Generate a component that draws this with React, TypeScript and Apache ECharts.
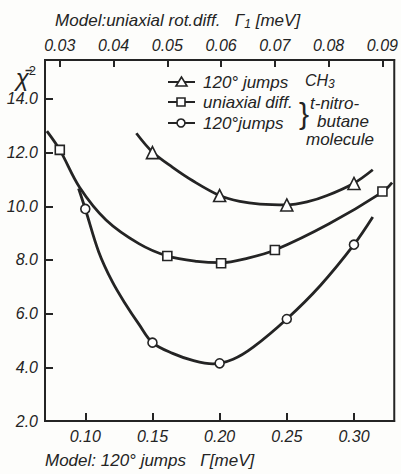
import React, { useEffect, useRef } from "react";
import * as echarts from "echarts";

// ---- data ----
const bottomTicks = [0.1, 0.15, 0.2, 0.25, 0.3];
const topTicks = [0.03, 0.04, 0.05, 0.06, 0.07, 0.08, 0.09];
const yTicks = [2, 4, 6, 8, 10, 12, 14];

// 120° jumps, CH3 (bottom axis, Γ)
const ch3MarkX = [0.15, 0.2, 0.25, 0.3];
const ch3MarkY = [12.0, 10.4, 10.05, 10.85];
const ch3CurveX = [0.138, 0.15, 0.165, 0.18, 0.2, 0.215, 0.23, 0.25, 0.265, 0.28, 0.3, 0.314];
const ch3CurveY = [12.72, 12.02, 11.45, 10.95, 10.4, 10.18, 10.08, 10.05, 10.16, 10.4, 10.86, 11.36];

// uniaxial diffusion, t-nitrobutane (top axis, Γ1)
const uniMarkX = [0.03, 0.05, 0.06, 0.07, 0.09];
const uniMarkY = [12.1, 8.15, 7.88, 8.37, 10.55];
const uniCurveX = [0.0276, 0.03, 0.0337, 0.0386, 0.0447, 0.05, 0.0555, 0.06, 0.065, 0.07, 0.08, 0.09, 0.0918];
const uniCurveY = [12.8, 12.1, 10.7, 9.49, 8.61, 8.15, 7.95, 7.9, 8.07, 8.37, 9.34, 10.53, 10.88];

// 120° jumps, t-nitrobutane (bottom axis, Γ)
const tnbMarkX = [0.1, 0.15, 0.2, 0.25, 0.3];
const tnbMarkY = [9.9, 4.92, 4.15, 5.8, 8.57];
const tnbCurveX = [0.095, 0.1, 0.11, 0.12, 0.13, 0.14, 0.15, 0.165, 0.18, 0.195, 0.21, 0.225, 0.25, 0.275, 0.3, 0.314];
const tnbCurveY = [10.66, 9.9, 8.3, 7.2, 6.35, 5.6, 4.92, 4.52, 4.26, 4.13, 4.3, 4.75, 5.8, 7.05, 8.57, 9.6];

const zip = (xs: number[], ys: number[]) => xs.map((x, i) => [x, ys[i]]);

const INK = "#242424";
const FONT = "'Liberation Sans', Arial, sans-serif";

export default function App() {
  const ref = useRef<HTMLDivElement>(null);
  useEffect(() => {
    const chart = echarts.init(ref.current!, null, { renderer: "svg" });
    const labelStyle = {
      fontFamily: FONT,
      fontStyle: "italic" as const,
      fontSize: 16,
      color: INK,
    };
    const lineSeries = (name: string, xs: number[], ys: number[], xi: number) => ({
      name,
      type: "line",
      xAxisIndex: xi,
      data: zip(xs, ys),
      smooth: 0.35,
      showSymbol: false,
      silent: true,
      lineStyle: { color: INK, width: 2.8 },
      z: 2,
    });
    const markSeries = (name: string, xs: number[], ys: number[], xi: number, symbol: string, size: number) => ({
      name,
      type: "scatter",
      xAxisIndex: xi,
      data: zip(xs, ys),
      symbol,
      symbolSize: size,
      itemStyle: { color: "#ffffff", opacity: 1, borderColor: INK, borderWidth: 1.6 },
      emphasis: { disabled: true },
      z: 3,
    });
    const legY = [82, 102, 123];
    const txt = (x: number, y: number, text: string, extra: any = {}) => ({
      type: "text",
      x,
      y,
      style: {
        text,
        font: `italic 17px ${FONT}`,
        fill: INK,
        verticalAlign: "middle",
        ...extra,
      },
    });
    chart.setOption({
      animation: false,
      backgroundColor: "#fdfdfb",
      grid: {
        left: 45,
        right: 2,
        top: 60,
        bottom: 47,
        show: true,
        borderColor: INK,
        borderWidth: 2,
        containLabel: false,
      },
      xAxis: [
        {
          type: "value",
          position: "bottom",
          min: 0.07,
          max: 0.33,
          name: "Model: 120° jumps   Γ[meV]",
          nameLocation: "middle",
          nameGap: 31,
          nameTextStyle: { ...labelStyle, fontSize: 17, padding: [0, 140, 0, 0] },
          axisLine: { show: true, lineStyle: { color: INK, width: 2 } },
          axisTick: { show: true, inside: true, length: 8, customValues: bottomTicks, lineStyle: { color: INK, width: 2 } },
          axisLabel: { ...labelStyle, margin: 7, customValues: bottomTicks, formatter: (v: number) => v.toFixed(2) },
          splitLine: { show: false },
        },
        {
          type: "value",
          position: "top",
          min: 0.02725,
          max: 0.0922,
          name: "Model:uniaxial rot.diff.   Γ{s|1} [meV]",
          nameLocation: "middle",
          nameGap: 30,
          nameTextStyle: {
            ...labelStyle,
            fontSize: 17,
            padding: [0, 84, 0, 0],
            rich: { s: { fontFamily: FONT, fontStyle: "italic", fontSize: 12, color: INK, padding: [8, 0, 0, 0] } },
          },
          axisLine: { show: true, lineStyle: { color: INK, width: 2 } },
          axisTick: { show: true, inside: true, length: 7, customValues: topTicks, lineStyle: { color: INK, width: 2 } },
          axisLabel: { ...labelStyle, margin: 7, customValues: topTicks, formatter: (v: number) => v.toFixed(2) },
          splitLine: { show: false },
        },
      ],
      yAxis: {
        type: "value",
        min: 2,
        max: 15.45,
        name: "{a|χ̄}{b|2}",
        nameLocation: "end",
        nameGap: -17,
        nameTextStyle: {
          align: "right",
          verticalAlign: "middle",
          padding: [0, 9, 0, 0],
          rich: {
            a: { fontFamily: FONT, fontStyle: "italic", fontSize: 24, color: INK },
            b: { fontFamily: FONT, fontSize: 13, color: INK, padding: [0, 0, 14, 0] },
          },
        },
        axisLine: { show: true, lineStyle: { color: INK, width: 2 } },
        axisTick: { show: true, inside: true, length: 8, customValues: yTicks, lineStyle: { color: INK, width: 2 } },
        axisLabel: { ...labelStyle, margin: 7, customValues: yTicks, formatter: (v: number) => v.toFixed(1) },
        splitLine: { show: false },
      },
      series: [
        lineSeries("120° jumps CH3 curve", ch3CurveX, ch3CurveY, 0),
        markSeries("120° jumps CH3", ch3MarkX, ch3MarkY, 0, "triangle", 12),
        lineSeries("uniaxial diff curve", uniCurveX, uniCurveY, 1),
        markSeries("uniaxial diff", uniMarkX, uniMarkY, 1, "rect", 9),
        lineSeries("120° jumps curve", tnbCurveX, tnbCurveY, 0),
        markSeries("120° jumps", tnbMarkX, tnbMarkY, 0, "circle", 9),
      ],
      graphic: [
        // legend row 1
        { type: "line", shape: { x1: 168, y1: legY[0], x2: 195, y2: legY[0] }, style: { stroke: INK, lineWidth: 2 } },
        {
          type: "polygon",
          shape: { points: [[181.5, legY[0] - 5], [176, legY[0] + 4], [187, legY[0] + 4]] },
          style: { fill: "#fff", stroke: INK, lineWidth: 1.6 },
        },
        txt(203, legY[0], "120° jumps"),
        {
          type: "text",
          x: 305,
          y: legY[0] - 2,
          style: {
            text: "CH{s|3}",
            font: `italic 16px ${FONT}`,
            fill: INK,
            verticalAlign: "middle",
            rich: { s: { font: `italic 12px ${FONT}`, fill: INK, padding: [7, 0, 0, 0] } },
          },
        },
        // legend row 2
        { type: "line", shape: { x1: 168, y1: legY[1], x2: 195, y2: legY[1] }, style: { stroke: INK, lineWidth: 2 } },
        { type: "rect", shape: { x: 177, y: legY[1] - 4, width: 8, height: 8 }, style: { fill: "#fff", stroke: INK, lineWidth: 1.6 } },
        txt(203, legY[1], "uniaxial diff."),
        // legend row 3
        { type: "line", shape: { x1: 168, y1: legY[2], x2: 195, y2: legY[2] }, style: { stroke: INK, lineWidth: 2 } },
        { type: "circle", shape: { cx: 181, cy: legY[2], r: 4 }, style: { fill: "#fff", stroke: INK, lineWidth: 1.6 } },
        txt(203, legY[2], "120°jumps"),
        // brace and molecule label
        txt(299, 113, "}", { font: `30px ${FONT}` }),
        txt(310, 103, "t-nitro-"),
        txt(343, 121, "butane", { align: "center" }),
        txt(306, 139, "molecule"),
      ],
    });
    return () => chart.dispose();
  }, []);
  return <div ref={ref} style={{ position: "fixed", left: 0, top: 0, width: 401, height: 474 }} />;
}
